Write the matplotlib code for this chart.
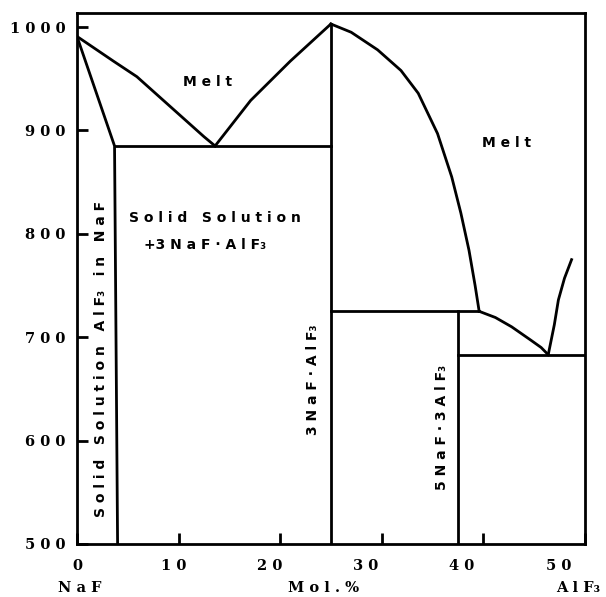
import matplotlib
matplotlib.use("Agg")
import matplotlib.pyplot as plt

plt.rcParams["font.family"] = ["DejaVu Sans"]
plt.rcParams["font.weight"] = "bold"

# NaF-side liquidus (NaF mp -> eutectic)
liq_naf_x = [0, 3.6, 5.9, 9.2, 12.5, 13.6]
liq_naf_y = [991, 967, 952, 923, 894, 885]
# solidus of the NaF solid solution
sol_x = [0, 3.7, 4.0]
sol_y = [991, 885, 500]
# cryolite liquidus, left branch
cry_left_x = [13.6, 17.1, 21, 25]
cry_left_y = [885, 929, 967, 1003]
# cryolite liquidus, right branch down to the peritectic
cry_right_x = [25, 27.0, 29.6, 31.9, 33.6, 35.5, 36.9, 37.8, 38.6, 39.2, 39.6]
cry_right_y = [1003, 995, 978, 958, 936, 897, 855, 820, 784, 750, 725]
# chiolite liquidus -> second eutectic
chi_x = [39.6, 41.2, 42.8, 44.7, 45.7, 46.4]
chi_y = [725, 719, 710, 697, 690, 683]
# AlF3 side liquidus
alf_x = [46.4, 47.0, 47.4, 48.0, 48.7]
alf_y = [683, 712, 736, 757, 775]

eut1_y = 885
peri_y = 725
eut2_y = 683
cryolite_x = 25
chiolite_x = 37.5

xticks = [0, 10, 20, 30, 40, 50]
yticks = [500, 600, 700, 800, 900, 1000]

fig = plt.figure(figsize=(6.06, 5.97), dpi=100)
ax = fig.add_axes([0.127, 0.089, 0.838, 0.889])

lw = 2.0
k = "black"
ax.plot(liq_naf_x, liq_naf_y, color=k, lw=lw)
ax.plot(sol_x, sol_y, color=k, lw=lw)
ax.plot(cry_left_x, cry_left_y, color=k, lw=lw)
ax.plot(cry_right_x, cry_right_y, color=k, lw=lw)
ax.plot(chi_x, chi_y, color=k, lw=lw)
ax.plot(alf_x, alf_y, color=k, lw=lw)
ax.plot([3.7, cryolite_x], [eut1_y, eut1_y], color=k, lw=lw)
ax.plot([cryolite_x, cryolite_x], [500, 1003], color=k, lw=lw)
ax.plot([cryolite_x, 39.6], [peri_y, peri_y], color=k, lw=lw)
ax.plot([chiolite_x, chiolite_x], [500, peri_y], color=k, lw=lw)
ax.plot([chiolite_x, 50], [eut2_y, eut2_y], color=k, lw=lw)

ax.set_xlim(0, 50)
ax.set_ylim(500, 1013.5)
ax.set_xticks(xticks)
ax.set_yticks(yticks)
ax.set_xticklabels([])
ax.set_yticklabels([" ".join(str(v)) for v in yticks],
                   fontfamily="DejaVu Serif", fontsize=10.5)
ax.tick_params(direction="in", length=8, width=2, pad=8)
for s in ax.spines.values():
    s.set_linewidth(2)

# x tick labels drift left in the original scan
for v in xticks:
    ax.annotate(" ".join(str(v)), (v, 0), xycoords=("data", "axes fraction"),
                xytext=(-v * 0.38, -16), textcoords="offset points",
                ha="center", va="center", fontfamily="DejaVu Serif", fontsize=10.5)

fs = 10
ax.text(12.9, 947, "M e l t", fontsize=fs, ha="center", va="center")
ax.text(42.3, 888, "M e l t", fontsize=fs, ha="center", va="center")
ax.text(13.6, 815, "S o l i d   S o l u t i o n", fontsize=fs, ha="center", va="center")
ax.text(6.6, 789, "+3 N a F · A l F₃", fontsize=fs, ha="left", va="center")
ax.text(2.4, 679, "S o l i d   S o l u t i o n   A l F₃   i n   N a F", fontsize=fs,
        ha="center", va="center", rotation=90)
ax.text(23.2, 659, "3 N a F · A l F₃", fontsize=fs, ha="center", va="center", rotation=90)
ax.text(35.9, 613, "5 N a F · 3 A l F₃", fontsize=fs, ha="center", va="center", rotation=90)

fig.text(80 / 606, 1 - 588 / 597, "N a F", fontsize=10.5, family="DejaVu Serif",
         ha="center", va="center")
fig.text(324 / 606, 1 - 588 / 597, "M o l . %", fontsize=10.5, family="DejaVu Serif",
         ha="center", va="center")
fig.text(578 / 606, 1 - 588 / 597, "A l F₃", fontsize=10.5, family="DejaVu Serif",
         ha="center", va="center")

fig.savefig("out.png", dpi=100)
